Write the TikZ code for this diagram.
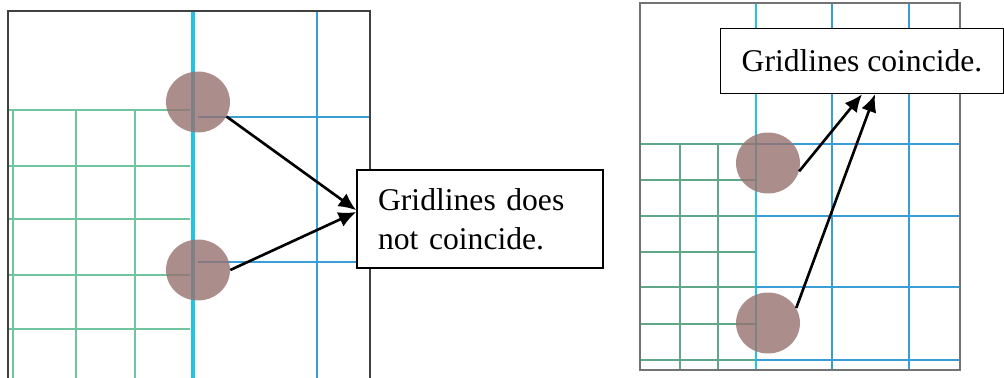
\documentclass[tikz,border=0pt]{standalone}
\usepackage{fontspec}
\setmainfont{Liberation Serif}
\usetikzlibrary{shapes.geometric, arrows.meta}

\definecolor{gridgreen}{RGB}{112,196,160}
\definecolor{gridblue}{RGB}{58,158,214}
\definecolor{gridcyan}{RGB}{34,196,228}
\definecolor{spotbrown}{RGB}{150,114,111}

\tikzset{
  greenline/.style = {gridgreen, line width = 1.4pt},
  blueline/.style = {gridblue, line width = 1.1pt},
  cyanline/.style = {gridcyan, line width = 2.2pt},
  spot/.style = {ellipse, fill = spotbrown, fill opacity = 0.8,
    minimum width = 36.4pt, minimum height = 34.7pt, inner sep = 0pt},
  notebox/.style = {draw, fill = white, line width = 0.9pt,
    font = \fontsize{18}{22}\selectfont, inner xsep = 12pt},
  pointer/.style = {line width = 1.5pt, -{Latex[length = 10pt, width = 9pt]}}
}

\begin{document}
\begin{tikzpicture}[x = 0.02cm, y = -0.02cm]
  \useasboundingbox (0, 0) rectangle (1004, 378);

  % left sheet: grids do not meet
  \foreach \y in {110, 166, 219, 275, 329}
    \draw[greenline] (8, \y) -- (190, \y);
  \foreach \x in {13, 76, 135}
    \draw[greenline] (\x, 110) -- (\x, 378);
  \draw[cyanline] (193, 11) -- (193, 378);
  \draw[blueline] (317, 11) -- (317, 378);
  \foreach \y in {117, 262}
    \draw[blueline] (198, \y) -- (370, \y);
  \draw[black!75, line width = 0.8pt] (8, 378) -- (8, 11) -- (370, 11) -- (370, 378);

  % right sheet: grids meet
  \foreach \y in {144, 180, 216, 252, 287, 324, 360}
    \draw[greenline, gridgreen!85!black, line width = 0.9pt] (640, \y) -- (756, \y);
  \foreach \x in {680, 718}
    \draw[greenline, gridgreen!85!black, line width = 0.9pt] (\x, 144) -- (\x, 370);
  \draw[cyanline, line width = 1.3pt] (756, 3) -- (756, 370);
  \foreach \x in {832, 909}
    \draw[blueline, line width = 0.9pt] (\x, 3) -- (\x, 370);
  \foreach \y in {144, 216, 287, 360}
    \draw[blueline, line width = 0.9pt] (756, \y) -- (960, \y);
  \draw[black!55, line width = 1.1pt] (640, 3) rectangle (960, 370);

  % marked crossings
  \node[spot] (lc1) at (198, 102) {};
  \node[spot] (lc2) at (198, 270) {};
  \node[spot] (rc1) at (768, 163) {};
  \node[spot] (rc2) at (768, 323) {};

  % labels
  \node[notebox, text width = 116pt, minimum height = 56pt, align = left]
    (lbox) at (480, 219) {Gridlines does\\not coincide.};
  \node[notebox, minimum width = 160.5pt, minimum height = 37pt]
    (rbox) at (862, 61) {Gridlines coincide.};

  \draw[pointer] (lc1.-27) -- ([yshift = 5pt]lbox.west);
  \draw[pointer] (lc2.east) -- ([yshift = 4pt]lbox.west);
  \draw[pointer] (rc1.-15) -- (rbox.south);
  \draw[pointer] (rc2.28) -- ([xshift = 7.4pt]rbox.south);
\end{tikzpicture}
\end{document}
